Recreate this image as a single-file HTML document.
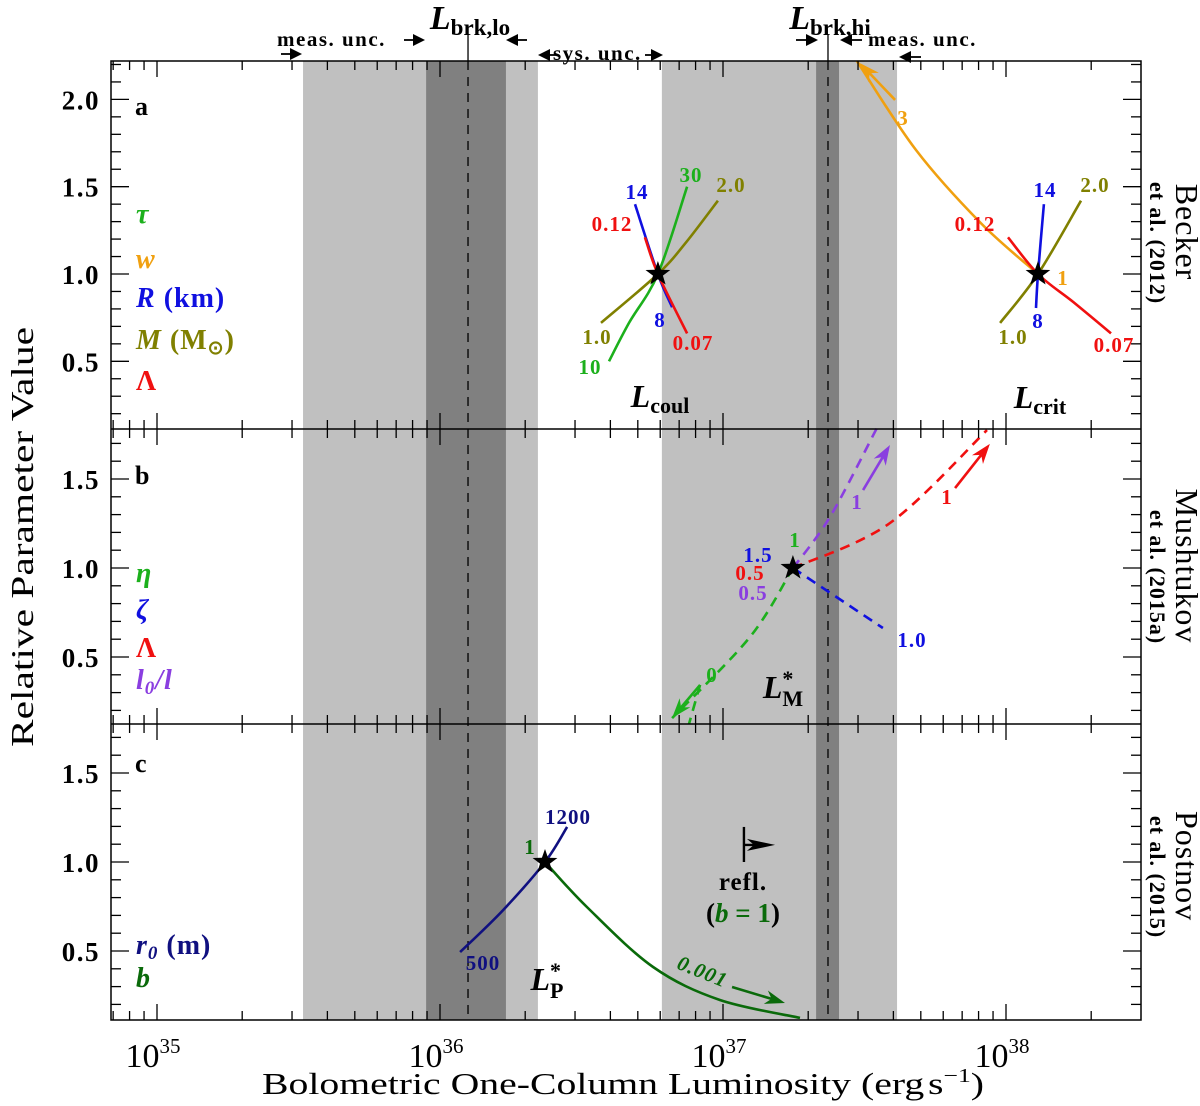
<!DOCTYPE html>
<html><head><meta charset="utf-8">
<style>
html,body{margin:0;padding:0;background:#fff;}
svg{display:block;font-family:"Liberation Serif",serif;}
.tk{font-weight:bold;font-size:27px;letter-spacing:1.5px;}
</style></head>
<body>
<svg id="chart" width="1200" height="1106" viewBox="0 0 1200 1106" xmlns="http://www.w3.org/2000/svg">
<g id="bands"></g>
<g id="curves"></g>
<g id="axes"></g>
<g id="labels"></g>
</svg>
<script>
// ---- data ----
const xDecades = [35, 36, 37, 38];
const yTicksA = [0.5, 1.0, 1.5, 2.0];
const yTicksB = [0.5, 1.0, 1.5];
const yTicksC = [0.5, 1.0, 1.5];
const lightBands = [[35.516, 36.346], [36.784, 37.615]];
const darkBands = [[35.951, 36.233], [37.329, 37.410]];
const breakLines = [36.099, 37.371];
// panel a, Lcoul
const coulR_L = [36.689, 36.770, 36.820], coulR_V = [1.40, 1.00, 0.81];
const coulLam_L = [36.724, 36.770, 36.873], coulLam_V = [1.21, 1.00, 0.66];
const coulTau_L = [36.873, 36.770, 36.668, 36.597], coulTau_V = [1.50, 1.00, 0.72, 0.50];
const coulM_L = [36.982, 36.869, 36.770, 36.569], coulM_V = [1.42, 1.18, 1.00, 0.72];
// panel a, Lcrit
const critR_L = [38.134, 38.113, 38.106], critR_V = [1.40, 1.00, 0.805];
const critM_L = [38.265, 38.113, 37.979], critM_V = [1.42, 1.00, 0.72];
const critLam_L = [38.007, 38.113, 38.237, 38.371], critLam_V = [1.21, 1.00, 0.84, 0.66];
const critW_L = [37.473, 37.682, 37.912, 38.113], critW_V = [2.22, 1.71, 1.29, 1.00];
const starsA_L = [36.770, 38.113], starsA_V = [1.0, 1.0];
// panel b
const bL0_L = [37.247, 37.378, 37.544], bL0_V = [1.0, 1.287, 1.787];
const bLam_L = [37.247, 37.590, 37.933], bLam_V = [1.0, 1.253, 1.775];
const bZeta_L = [37.247, 37.565], bZeta_V = [1.0, 0.663];
const bEta_L = [37.247, 37.095, 36.820], bEta_V = [1.0, 0.612, 0.157];
const bEta2_L = [36.919, 36.880], bEta2_V = [0.343, 0.124];
const starB_L = [37.247], starB_V = [1.0];
// panel c
const cR0_L = [36.449, 36.371, 36.223, 36.071], cR0_V = [1.197, 1.0, 0.730, 0.494];
const cB_L = [36.371, 36.519, 36.753, 36.989, 37.272], cB_V = [1.0, 0.747, 0.410, 0.225, 0.124];
const starC_L = [36.371], starC_V = [1.0];

const NS = "http://www.w3.org/2000/svg";
const XL = 111, XR = 1141;
const panels = {
  a: {top: 61, bot: 429, y1: 274, P: 174.6},
  b: {top: 429, bot: 724, y1: 568, P: 178},
  c: {top: 724, bot: 1020, y1: 862, P: 178}
};
function X(l) { return 157 + (l - 35) * 283; }
function Y(p, v) { return panels[p].y1 - (v - 1) * panels[p].P; }
function el(tag, attrs, parent) {
  const e = document.createElementNS(NS, tag);
  for (const k in attrs) e.setAttribute(k, attrs[k]);
  parent.appendChild(e);
  return e;
}
const gB = document.getElementById('bands'), gC = document.getElementById('curves'),
      gA = document.getElementById('axes'), gL = document.getElementById('labels');

lightBands.forEach(b => {
  const r = el('rect', {x: X(b[0]), y: 61, width: X(b[1]) - X(b[0]), height: 959, fill: '#c0c0c0'}, gB);
  
  
});
darkBands.forEach(b => {
  const r = el('rect', {x: X(b[0]), y: 61, width: X(b[1]) - X(b[0]), height: 959, fill: '#808080'}, gB);
  
  
});
breakLines.forEach(l => {
  const ln = el('line', {x1: X(l), x2: X(l), y1: 61, y2: 1020, stroke: '#000', 'stroke-width': 1.3, 'stroke-dasharray': '9,7'}, gB);
  
  
  const t = el('line', {x1: X(l), x2: X(l), y1: 35, y2: 61, stroke: '#000', 'stroke-width': 1.3}, gB);
  
  
});

function pathD(p, Ls, Vs) {
  const pts = Ls.map((l, i) => [X(l), Y(p, Vs[i])]);
  let d = 'M' + pts[0][0].toFixed(1) + ',' + pts[0][1].toFixed(1);
  for (let i = 0; i < pts.length - 1; i++) {
    const p0 = pts[Math.max(0, i - 1)], p1 = pts[i], p2 = pts[i + 1], p3 = pts[Math.min(pts.length - 1, i + 2)];
    const c1 = [p1[0] + (p2[0] - p0[0]) / 6, p1[1] + (p2[1] - p0[1]) / 6];
    const c2 = [p2[0] - (p3[0] - p1[0]) / 6, p2[1] - (p3[1] - p1[1]) / 6];
    d += 'C' + c1.map(v => v.toFixed(1)).join(',') + ' ' + c2.map(v => v.toFixed(1)).join(',') + ' ' + p2[0].toFixed(1) + ',' + p2[1].toFixed(1);
  }
  return d;
}
function curve(p, Ls, Vs, color, name, dashed) {
  const c = el('path', {d: pathD(p, Ls, Vs), fill: 'none', stroke: color, 'stroke-width': 2.6}, gC);
  if (dashed) c.setAttribute('stroke-dasharray', '10,7');
  
  
}
function arrow(x1, y1, x2, y2, color, name, hw) {
  hw = hw || 7;
  const ang = Math.atan2(y2 - y1, x2 - x1), len = 20;
  const bx = x2 - len * Math.cos(ang), by = y2 - len * Math.sin(ang);
  const g = el('g', {}, gC);
  
  
  el('line', {x1: x1, y1: y1, x2: bx + 6 * Math.cos(ang), y2: by + 6 * Math.sin(ang), stroke: color, 'stroke-width': 2.6}, g);
  const px = -Math.sin(ang) * hw, py = Math.cos(ang) * hw;
  const ix = x2 - (len - 6) * Math.cos(ang), iy = y2 - (len - 6) * Math.sin(ang);
  el('path', {d: `M${x2},${y2} L${bx + px},${by + py} L${ix},${iy} L${bx - px},${by - py} Z`, fill: color}, g);
}
function star(p, l, v) {
  const cx = X(l), cy = Y(p, v), R = 13, r = 5.2;
  let d = '';
  for (let i = 0; i < 10; i++) {
    const a = -Math.PI / 2 + i * Math.PI / 5, rr = i % 2 ? r : R;
    d += (i ? 'L' : 'M') + (cx + rr * Math.cos(a)).toFixed(1) + ',' + (cy + rr * Math.sin(a)).toFixed(1);
  }
  const s = el('path', {d: d + 'Z', fill: '#000'}, gC);
  
  
}
const GREEN = '#1cb01c', ORANGE = '#f0a010', BLUE = '#1010e0', OLIVE = '#808000', RED = '#f01010', PURPLE = '#8a3ee0', NAVY = '#101080', DGREEN = '#0a6a0a';

curve('a', coulM_L, coulM_V, OLIVE, 'coul-mass-curve');
curve('a', coulTau_L, coulTau_V, GREEN, 'coul-tau-curve');
curve('a', coulR_L, coulR_V, BLUE, 'coul-radius-curve');
curve('a', coulLam_L, coulLam_V, RED, 'coul-lambda-curve');
curve('a', critW_L, critW_V, ORANGE, 'crit-w-curve');
curve('a', critM_L, critM_V, OLIVE, 'crit-mass-curve');
curve('a', critR_L, critR_V, BLUE, 'crit-radius-curve');
curve('a', critLam_L, critLam_V, RED, 'crit-lambda-curve');
arrow(X(37.608), Y('a', 1.997), X(37.484), Y('a', 2.208), ORANGE, 'w-arrow');
starsA_L.forEach((l, i) => star('a', l, starsA_V[i]));
curve('b', bL0_L, bL0_V, PURPLE, 'l0-curve', true);
curve('b', bLam_L, bLam_V, RED, 'mushtukov-lambda-curve', true);
curve('b', bZeta_L, bZeta_V, BLUE, 'zeta-curve', true);
curve('b', bEta_L, bEta_V, GREEN, 'eta-curve', true);
curve('b', bEta2_L, bEta2_V, GREEN, 'eta-curve-2', true);
arrow(X(37.495), Y('b', 1.438), X(37.590), Y('b', 1.691), PURPLE, 'l0-arrow');
arrow(X(37.820), Y('b', 1.449), X(37.943), Y('b', 1.697), RED, 'lambda-arrow');
arrow(X(36.919), Y('b', 0.343), X(36.820), Y('b', 0.157), GREEN, 'eta-arrow');
star('b', starB_L[0], starB_V[0]);
curve('c', cR0_L, cR0_V, NAVY, 'r0-curve');
curve('c', cB_L, cB_V, DGREEN, 'b-curve');
arrow(X(37.032), Y('c', 0.298), X(37.219), Y('c', 0.208), DGREEN, 'b-arrow');
star('c', starC_L[0], starC_V[0]);
(function () {
  const g = el('g', {}, gC);
  
  
  const x0 = X(37.074);
  el('line', {x1: x0, x2: x0, y1: Y('c', 1.197), y2: Y('c', 1.0), stroke: '#000', 'stroke-width': 2.4}, g);
  const x1 = X(37.184), yy = Y('c', 1.096);
  el('line', {x1: x0, x2: x1 - 10, y1: yy, y2: yy, stroke: '#000', 'stroke-width': 2.4}, g);
  el('path', {d: `M${x1},${yy} L${x0 + 3},${yy - 6} L${x0 + 10},${yy} L${x0 + 3},${yy + 6} Z`, fill: '#000'}, g);
})();

const frame = el('rect', {x: XL, y: 61, width: XR - XL, height: 959, fill: 'none', stroke: '#000', 'stroke-width': 1.5}, gA);


[429, 724].forEach(y => {
  const l = el('line', {x1: XL, x2: XR, y1: y, y2: y, stroke: '#000', 'stroke-width': 1.5}, gA);
  
  
});
function tick(x1, y1, x2, y2) { el('line', {x1: x1, y1: y1, x2: x2, y2: y2, stroke: '#000', 'stroke-width': 1.3}, gA); }
const lMin = 35 + (XL - 157) / 283, lMax = 35 + (XR - 157) / 283;
[61, 429, 724, 1020].forEach(y => {
  for (let d = 34; d <= 38; d++) for (let m = 1; m <= 9; m++) {
    const l = d + Math.log10(m);
    if (l < lMin || l > lMax) continue;
    const len = m === 1 ? 16 : 9;
    const x = X(l);
    if (y > 61) tick(x, y, x, y - len);
    if (y < 1020) tick(x, y, x, y + len);
  }
});
['a', 'b', 'c'].forEach(p => {
  const P = panels[p];
  for (let k = 0; k <= 25; k++) {
    const v = k / 10, y = Y(p, v);
    if (y <= P.top + 1 || y >= P.bot - 1) continue;
    const len = (k % 5 === 0) ? 18 : 10;
    tick(XL, y, XL + len, y);
    tick(XR, y, XR - len, y);
  }
});
function txt(x, y, s, attrs, name, parent) {
  const t = el('text', Object.assign({x: x, y: y}, attrs || {}), parent || gL);
  t.innerHTML = s;
  
  
  return t;
}
const tickSets = {a: yTicksA, b: yTicksB, c: yTicksC};
['a', 'b', 'c'].forEach(p => {
  tickSets[p].forEach(v => {
    txt(100, Y(p, v) + 10, v.toFixed(1), {'text-anchor': 'end', 'class': 'tk'}, 'y-tick-label');
  });
});
xDecades.forEach(d => {
  txt(X(d) - 4, 1067, '10<tspan dy="-14" font-size="21">' + d + '</tspan>', {'text-anchor': 'middle', 'font-size': 34}, 'x-tick-label');
});
txt(623, 1094, 'Bolometric One-Column Luminosity (erg<tspan dx="3">s</tspan><tspan dy="-12" font-size="20">−1</tspan><tspan dy="12">)</tspan>', {'text-anchor': 'middle', 'font-size': 31, textLength: 722, lengthAdjust: 'spacingAndGlyphs'}, 'x-axis-title');
txt(0, 0, 'Relative Parameter Value', {'text-anchor': 'middle', 'font-size': 32, textLength: 420, lengthAdjust: 'spacingAndGlyphs', transform: 'translate(33,537) rotate(-90)'}, 'y-axis-title');

txt(0, 0, 'Becker', {'text-anchor': 'middle', 'font-size': 32, 'letter-spacing': 1, transform: 'translate(1176,232) rotate(90)'}, 'panel-a-reference');
txt(0, 0, 'et al. (2012)', {'text-anchor': 'middle', 'font-size': 22, 'font-weight': 'bold', 'letter-spacing': 1, transform: 'translate(1150,243) rotate(90)'}, 'panel-a-reference-sub');
txt(0, 0, 'Mushtukov', {'text-anchor': 'middle', 'font-size': 32, 'letter-spacing': 1, transform: 'translate(1176,566) rotate(90)'}, 'panel-b-reference');
txt(0, 0, 'et al. (2015a)', {'text-anchor': 'middle', 'font-size': 22, 'font-weight': 'bold', 'letter-spacing': 1, transform: 'translate(1150,577) rotate(90)'}, 'panel-b-reference-sub');
txt(0, 0, 'Postnov', {'text-anchor': 'middle', 'font-size': 32, 'letter-spacing': 1, transform: 'translate(1176,866) rotate(90)'}, 'panel-c-reference');
txt(0, 0, 'et al. (2015)', {'text-anchor': 'middle', 'font-size': 22, 'font-weight': 'bold', 'letter-spacing': 1, transform: 'translate(1150,877) rotate(90)'}, 'panel-c-reference-sub');

const B = {'font-weight': 'bold', 'font-size': 26};
const BI = {'font-weight': 'bold', 'font-style': 'italic', 'font-size': 28, 'letter-spacing': 1};
const BU = {'font-weight': 'bold', 'font-size': 28};
txt(135, 115, 'a', B, 'panel-a-letter');
txt(135, 484, 'b', B, 'panel-b-letter');
txt(135, 772, 'c', B, 'panel-c-letter');
txt(136, 223, 'τ', Object.assign({fill: GREEN}, BI), 'legend-tau');
txt(136, 268, 'w', Object.assign({fill: ORANGE}, BI), 'legend-w');
txt(136, 307, 'R <tspan font-style="normal">(km)</tspan>', Object.assign({fill: BLUE}, BI), 'legend-radius');
txt(136, 349, 'M <tspan font-style="normal">(M<tspan dy="5" font-size="19">⊙</tspan><tspan dy="-5">)</tspan></tspan>', Object.assign({fill: OLIVE}, BI), 'legend-mass');
txt(136, 390, 'Λ', Object.assign({fill: RED}, BU), 'legend-lambda');
txt(136, 582, 'η', Object.assign({fill: GREEN}, BI), 'legend-eta');
txt(136, 619, 'ζ', Object.assign({fill: BLUE}, BI), 'legend-zeta');
txt(136, 657, 'Λ', Object.assign({fill: RED}, BU), 'legend-lambda-b');
txt(136, 689, 'l<tspan dy="5" font-size="19">0</tspan><tspan dy="-5">/l</tspan>', Object.assign({fill: PURPLE}, BI), 'legend-l0');
txt(136, 954, 'r<tspan dy="5" font-size="19">0</tspan><tspan dy="-5" font-style="normal"> (m)</tspan>', Object.assign({fill: NAVY}, BI), 'legend-r0');
txt(136, 987, 'b', Object.assign({fill: DGREEN}, BI), 'legend-b');

const S = {'font-weight': 'bold', 'font-size': 21, 'letter-spacing': 1, 'text-anchor': 'middle'};
function lab(x, y, s, c, name) { return txt(x, y + 7, s, Object.assign({fill: c}, S), name); }
lab(637, 192, '14', BLUE, 'label-coul-14');
lab(612, 224, '0.12', RED, 'label-coul-012');
lab(691, 175, '30', GREEN, 'label-coul-30');
lab(731, 185, '2.0', OLIVE, 'label-coul-20');
lab(660, 320, '8', BLUE, 'label-coul-8');
lab(693, 343, '0.07', RED, 'label-coul-007');
lab(597, 337, '1.0', OLIVE, 'label-coul-10');
lab(590, 367, '10', GREEN, 'label-coul-tau10');
lab(1045, 190, '14', BLUE, 'label-crit-14');
lab(1095, 185, '2.0', OLIVE, 'label-crit-20');
lab(975, 224, '0.12', RED, 'label-crit-012');
lab(1063, 278, '1', ORANGE, 'label-crit-w1');
lab(903, 118, '3', ORANGE, 'label-crit-w3');
lab(1038, 321, '8', BLUE, 'label-crit-8');
lab(1013, 337, '1.0', OLIVE, 'label-crit-10');
lab(1114, 345, '0.07', RED, 'label-crit-007');
lab(758, 555, '1.5', BLUE, 'label-b-15');
lab(795, 540, '1', GREEN, 'label-b-eta1');
lab(750, 573, '0.5', RED, 'label-b-lambda05');
lab(753, 593, '0.5', PURPLE, 'label-b-l005');
lab(912, 640, '1.0', BLUE, 'label-b-zeta10');
lab(857, 502, '1', PURPLE, 'label-b-l01');
lab(947, 497, '1', RED, 'label-b-lambda1');
lab(712, 675, '0', GREEN, 'label-b-eta0');
lab(568, 817, '1200', NAVY, 'label-c-1200');
lab(530, 847, '1', DGREEN, 'label-c-b1');
lab(483, 963, '500', NAVY, 'label-c-500');
txt(0, 0, '0.001', {fill: DGREEN, 'font-weight': 'bold', 'font-style': 'italic', 'font-size': 21, 'letter-spacing': 1, 'text-anchor': 'middle', transform: 'translate(700,978) rotate(22)'}, 'label-c-0001');
txt(743, 890, 'refl.', {'font-weight': 'bold', 'font-size': 25, 'letter-spacing': 1, 'text-anchor': 'middle'}, 'refl-label');
txt(743, 922, '(<tspan fill="' + DGREEN + '" font-style="italic">b</tspan><tspan fill="' + DGREEN + '"> = 1</tspan>)', {'font-weight': 'bold', 'font-size': 27, 'text-anchor': 'middle'}, 'refl-condition');
const LB = {'font-weight': 'bold', 'font-size': 32, 'font-style': 'italic', 'text-anchor': 'middle'};
txt(660, 407, 'L<tspan dy="6" font-size="22" font-style="normal">coul</tspan>', LB, 'L-coul-label');
txt(1040, 408, 'L<tspan dy="6" font-size="22" font-style="normal">crit</tspan>', LB, 'L-crit-label');
txt(783, 698, 'L<tspan dy="-12" font-size="22" font-style="normal">*</tspan><tspan dx="-11" dy="20" font-size="22" font-style="normal">M</tspan>', LB, 'L-M-label');
txt(547, 990, 'L<tspan dy="-12" font-size="22" font-style="normal">*</tspan><tspan dx="-11" dy="20" font-size="22" font-style="normal">P</tspan>', LB, 'L-P-label');

const TB = {'font-weight': 'bold', 'font-size': 21, 'letter-spacing': 1.5};
txt(470, 29, 'L<tspan dy="6" font-size="23" font-style="normal">brk,lo</tspan>', {'font-weight': 'bold', 'font-style': 'italic', 'font-size': 34, 'text-anchor': 'middle'}, 'L-brk-lo-label');
txt(830, 29, 'L<tspan dy="6" font-size="23" font-style="normal">brk,hi</tspan>', {'font-weight': 'bold', 'font-style': 'italic', 'font-size': 34, 'text-anchor': 'middle'}, 'L-brk-hi-label');
txt(277, 46, 'meas. unc.', TB, 'meas-unc-lo-label');
txt(868, 46, 'meas. unc.', TB, 'meas-unc-hi-label');
txt(553, 60, 'sys. unc.', TB, 'sys-unc-label');
function tArrow(x1, x2, y, name) {
  const g = el('g', {}, gL);
  
  
  const dir = Math.sign(x2 - x1);
  el('line', {x1: x1, x2: x2 - dir * 6, y1: y, y2: y, stroke: '#000', 'stroke-width': 1.8}, g);
  el('path', {d: `M${x2},${y} L${x2 - dir * 12},${y - 6} L${x2 - dir * 12},${y + 6} Z`, fill: '#000'}, g);
}
tArrow(404, 425, 40, 'meas-unc-lo-arrow-right');
tArrow(281, 302, 54, 'meas-unc-lo-arrow-start');
tArrow(527, 506, 40, 'meas-unc-lo-arrow-left');
tArrow(556, 538, 55, 'sys-unc-arrow-left');
tArrow(645, 663, 55, 'sys-unc-arrow-right');
tArrow(796, 818, 40, 'meas-unc-hi-arrow-right');
tArrow(862, 840, 40, 'meas-unc-hi-arrow-left');
tArrow(921, 899, 57, 'meas-unc-hi-arrow-end');
</script>
</body></html>
